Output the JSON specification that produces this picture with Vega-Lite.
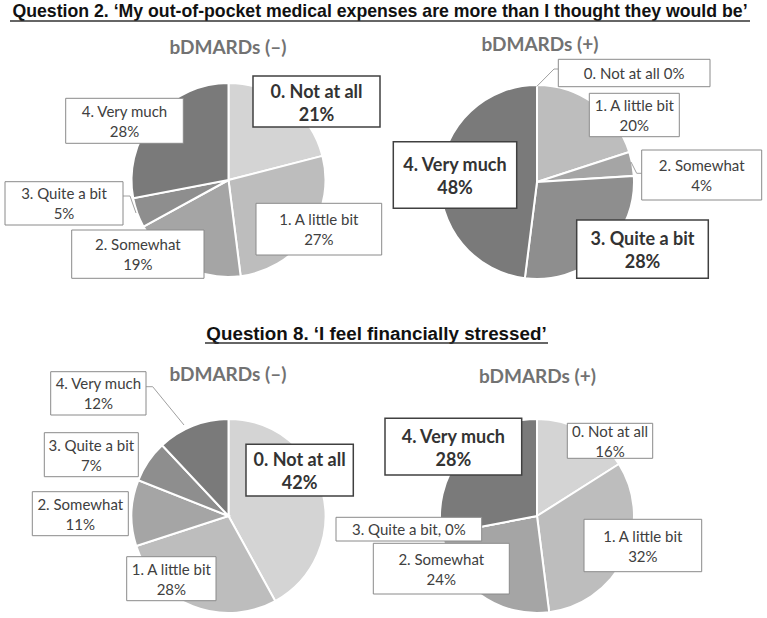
{
  "$schema": "https://vega.github.io/schema/vega-lite/v6.json",
  "width": 767,
  "height": 618,
  "autosize": {"type": "none"},
  "padding": 0,
  "background": "white",
  "config": {"view": {"stroke": null}},
  "datasets": {
    "slices": [
      {"pie": "Q2-", "cx": 228.5, "cy": 180, "order": 0, "cat": "0. Not at all", "value": 21},
      {"pie": "Q2-", "cx": 228.5, "cy": 180, "order": 1, "cat": "1. A little bit", "value": 27},
      {"pie": "Q2-", "cx": 228.5, "cy": 180, "order": 2, "cat": "2. Somewhat", "value": 19},
      {"pie": "Q2-", "cx": 228.5, "cy": 180, "order": 3, "cat": "3. Quite a bit", "value": 5},
      {"pie": "Q2-", "cx": 228.5, "cy": 180, "order": 4, "cat": "4. Very much", "value": 28},
      {"pie": "Q2+", "cx": 537, "cy": 182, "order": 0, "cat": "0. Not at all", "value": 0},
      {"pie": "Q2+", "cx": 537, "cy": 182, "order": 1, "cat": "1. A little bit", "value": 20},
      {"pie": "Q2+", "cx": 537, "cy": 182, "order": 2, "cat": "2. Somewhat", "value": 4},
      {"pie": "Q2+", "cx": 537, "cy": 182, "order": 3, "cat": "3. Quite a bit", "value": 28},
      {"pie": "Q2+", "cx": 537, "cy": 182, "order": 4, "cat": "4. Very much", "value": 48},
      {"pie": "Q8-", "cx": 228.5, "cy": 516, "order": 0, "cat": "0. Not at all", "value": 42},
      {"pie": "Q8-", "cx": 228.5, "cy": 516, "order": 1, "cat": "1. A little bit", "value": 28},
      {"pie": "Q8-", "cx": 228.5, "cy": 516, "order": 2, "cat": "2. Somewhat", "value": 11},
      {"pie": "Q8-", "cx": 228.5, "cy": 516, "order": 3, "cat": "3. Quite a bit", "value": 7},
      {"pie": "Q8-", "cx": 228.5, "cy": 516, "order": 4, "cat": "4. Very much", "value": 12},
      {"pie": "Q8+", "cx": 537, "cy": 516, "order": 0, "cat": "0. Not at all", "value": 16},
      {"pie": "Q8+", "cx": 537, "cy": 516, "order": 1, "cat": "1. A little bit", "value": 32},
      {"pie": "Q8+", "cx": 537, "cy": 516, "order": 2, "cat": "2. Somewhat", "value": 24},
      {"pie": "Q8+", "cx": 537, "cy": 516, "order": 3, "cat": "3. Quite a bit", "value": 0},
      {"pie": "Q8+", "cx": 537, "cy": 516, "order": 4, "cat": "4. Very much", "value": 28}
    ],
    "labels": [
      {"pie": "Q2-", "text": "0. Not at all\n21%", "bold": true, "x1": 253, "x2": 380, "y1": 76, "y2": 127},
      {"pie": "Q2-", "text": "1. A little bit\n27%", "bold": false, "x1": 256, "x2": 381.7, "y1": 203.3, "y2": 255},
      {"pie": "Q2-", "text": "2. Somewhat\n19%", "bold": false, "x1": 71.7, "x2": 204, "y1": 230, "y2": 278.3},
      {"pie": "Q2-", "text": "3. Quite a bit\n5%", "bold": false, "x1": 5, "x2": 123, "y1": 181.7, "y2": 225},
      {"pie": "Q2-", "text": "4. Very much\n28%", "bold": false, "x1": 65.7, "x2": 183.3, "y1": 98.3, "y2": 143.3},
      {"pie": "Q2+", "text": "0. Not at all 0%", "bold": false, "x1": 558.3, "x2": 710, "y1": 59.3, "y2": 86.7},
      {"pie": "Q2+", "text": "1. A little bit\n20%", "bold": false, "x1": 589.3, "x2": 679.3, "y1": 93.3, "y2": 136.7},
      {"pie": "Q2+", "text": "2. Somewhat\n4%", "bold": false, "x1": 641.7, "x2": 761.7, "y1": 150, "y2": 200},
      {"pie": "Q2+", "text": "3. Quite a bit\n28%", "bold": true, "x1": 576.7, "x2": 708.3, "y1": 220, "y2": 278.3},
      {"pie": "Q2+", "text": "4. Very much\n48%", "bold": true, "x1": 393.3, "x2": 516.7, "y1": 141.7, "y2": 208.3},
      {"pie": "Q8-", "text": "0. Not at all\n42%", "bold": true, "x1": 246, "x2": 353.3, "y1": 444.3, "y2": 496},
      {"pie": "Q8-", "text": "1. A little bit\n28%", "bold": false, "x1": 126.7, "x2": 216, "y1": 556.7, "y2": 600.7},
      {"pie": "Q8-", "text": "2. Somewhat\n11%", "bold": false, "x1": 32.3, "x2": 128.3, "y1": 491.7, "y2": 535.7},
      {"pie": "Q8-", "text": "3. Quite a bit\n7%", "bold": false, "x1": 44.3, "x2": 138.3, "y1": 432.7, "y2": 476.7},
      {"pie": "Q8-", "text": "4. Very much\n12%", "bold": false, "x1": 50.7, "x2": 146, "y1": 371.7, "y2": 415},
      {"pie": "Q8+", "text": "0. Not at all\n16%", "bold": false, "x1": 567.3, "x2": 652.7, "y1": 423.3, "y2": 458.3},
      {"pie": "Q8+", "text": "1. A little bit\n32%", "bold": false, "x1": 584, "x2": 701.7, "y1": 519.3, "y2": 571.7},
      {"pie": "Q8+", "text": "2. Somewhat\n24%", "bold": false, "x1": 373.3, "x2": 509.3, "y1": 543.3, "y2": 594},
      {"pie": "Q8+", "text": "3. Quite a bit, 0%", "bold": false, "x1": 336, "x2": 481.7, "y1": 517.3, "y2": 541},
      {"pie": "Q8+", "text": "4. Very much\n28%", "bold": true, "x1": 385, "x2": 521.7, "y1": 418.3, "y2": 475}
    ],
    "leaders": [
      {"id": "a", "ord": 0, "x": 123, "y": 196},
      {"id": "a", "ord": 1, "x": 130, "y": 196},
      {"id": "a", "ord": 2, "x": 136, "y": 213},
      {"id": "b", "ord": 0, "x": 558.3, "y": 69},
      {"id": "b", "ord": 1, "x": 554, "y": 69},
      {"id": "b", "ord": 2, "x": 536.7, "y": 86.5},
      {"id": "c", "ord": 0, "x": 631, "y": 162},
      {"id": "c", "ord": 1, "x": 636.7, "y": 173.3},
      {"id": "c", "ord": 2, "x": 641.7, "y": 173.3},
      {"id": "d", "ord": 0, "x": 146, "y": 386.7},
      {"id": "d", "ord": 1, "x": 152.7, "y": 386.7},
      {"id": "d", "ord": 2, "x": 184, "y": 425}
    ],
    "titles": [
      {"q": 2, "text": "Question 2. ‘My out-of-pocket medical expenses are more than I thought they would be’", "x": 380, "y": 17},
      {"q": 8, "text": "Question 8. ‘I feel financially stressed’", "x": 376.5, "y": 339.5}
    ],
    "underlines": [
      {"x1": 10, "x2": 750, "y": 21},
      {"x1": 205, "x2": 548, "y": 343}
    ],
    "subtitles": [
      {"text": "bDMARDs (–)", "x": 228, "y": 48},
      {"text": "bDMARDs (+)", "x": 540, "y": 45},
      {"text": "bDMARDs (–)", "x": 228, "y": 375},
      {"text": "bDMARDs (+)", "x": 537.5, "y": 377}
    ]
  },
  "layer": [
    {
      "data": {"name": "slices"},
      "transform": [
        {"stack": "value", "groupby": ["pie"], "sort": [{"field": "order", "order": "ascending"}], "as": ["v0", "v1"]}
      ],
      "mark": {"type": "arc", "radius": 97, "stroke": "white", "strokeWidth": 2},
      "encoding": {
        "x": {"field": "cx", "type": "quantitative", "scale": {"domain": [0, 767], "nice": false, "zero": false}, "axis": null},
        "y": {"field": "cy", "type": "quantitative", "scale": {"domain": [0, 618], "reverse": true, "nice": false, "zero": false}, "axis": null},
        "theta": {"field": "v0", "type": "quantitative", "stack": null, "scale": {"domain": [0, 100], "range": [0, 6.283185307]}},
        "theta2": {"field": "v1"},
        "color": {"field": "order", "type": "ordinal", "scale": {"domain": [0, 1, 2, 3, 4], "range": ["#d4d4d4", "#bdbdbd", "#a5a5a5", "#8e8e8e", "#7a7a7a"]}, "legend": null}
      }
    },
    {
      "data": {"name": "leaders"},
      "mark": {"type": "line", "color": "#a0a0a0", "strokeWidth": 1},
      "encoding": {
        "x": {"field": "x", "type": "quantitative", "axis": null},
        "y": {"field": "y", "type": "quantitative", "axis": null},
        "detail": {"field": "id"},
        "order": {"field": "ord", "type": "quantitative"}
      }
    },
    {
      "data": {"name": "labels"},
      "transform": [{"filter": "!datum.bold"}],
      "mark": {"type": "rect", "fill": "white", "stroke": "#8a8a8a", "strokeWidth": 1},
      "encoding": {
        "x": {"field": "x1", "type": "quantitative", "axis": null},
        "x2": {"field": "x2"},
        "y": {"field": "y1", "type": "quantitative", "axis": null},
        "y2": {"field": "y2"}
      }
    },
    {
      "data": {"name": "labels"},
      "transform": [{"filter": "datum.bold"}],
      "mark": {"type": "rect", "fill": "white", "stroke": "#404040", "strokeWidth": 1.5},
      "encoding": {
        "x": {"field": "x1", "type": "quantitative", "axis": null},
        "x2": {"field": "x2"},
        "y": {"field": "y1", "type": "quantitative", "axis": null},
        "y2": {"field": "y2"}
      }
    },
    {
      "data": {"name": "labels"},
      "transform": [
        {"filter": "!datum.bold && indexof(datum.text, '\\n') >= 0"},
        {"calculate": "(datum.x1 + datum.x2) / 2", "as": "xc"},
        {"calculate": "(datum.y1 + datum.y2) / 2", "as": "yc"}
      ],
      "mark": {"type": "text", "font": "Lato", "fontSize": 15, "lineBreak": "\n", "lineHeight": 20, "align": "center", "baseline": "middle", "dy": -9, "color": "#404040"},
      "encoding": {
        "x": {"field": "xc", "type": "quantitative", "axis": null},
        "y": {"field": "yc", "type": "quantitative", "axis": null},
        "text": {"field": "text"}
      }
    },
    {
      "data": {"name": "labels"},
      "transform": [
        {"filter": "!datum.bold && indexof(datum.text, '\\n') < 0"},
        {"calculate": "(datum.x1 + datum.x2) / 2", "as": "xc"},
        {"calculate": "(datum.y1 + datum.y2) / 2", "as": "yc"}
      ],
      "mark": {"type": "text", "font": "Lato", "fontSize": 15, "align": "center", "baseline": "middle", "dy": 1, "color": "#404040"},
      "encoding": {
        "x": {"field": "xc", "type": "quantitative", "axis": null},
        "y": {"field": "yc", "type": "quantitative", "axis": null},
        "text": {"field": "text"}
      }
    },
    {
      "data": {"name": "labels"},
      "transform": [
        {"filter": "datum.bold"},
        {"calculate": "(datum.x1 + datum.x2) / 2", "as": "xc"},
        {"calculate": "(datum.y1 + datum.y2) / 2", "as": "yc"}
      ],
      "mark": {"type": "text", "font": "Lato", "fontSize": 18, "fontWeight": "bold", "lineBreak": "\n", "lineHeight": 23, "align": "center", "baseline": "middle", "dy": -9, "color": "#333333"},
      "encoding": {
        "x": {"field": "xc", "type": "quantitative", "axis": null},
        "y": {"field": "yc", "type": "quantitative", "axis": null},
        "text": {"field": "text"}
      }
    },
    {
      "data": {"name": "subtitles"},
      "mark": {"type": "text", "font": "Lato", "fontSize": 19, "fontWeight": "bold", "align": "center", "baseline": "middle", "color": "#727272"},
      "encoding": {
        "x": {"field": "x", "type": "quantitative", "axis": null},
        "y": {"field": "y", "type": "quantitative", "axis": null},
        "text": {"field": "text"}
      }
    },
    {
      "data": {"name": "titles"},
      "transform": [{"filter": "datum.q == 2"}],
      "mark": {"type": "text", "font": "Liberation Sans", "fontSize": 17.7, "fontWeight": "bold", "align": "center", "baseline": "alphabetic", "color": "#111111"},
      "encoding": {
        "x": {"field": "x", "type": "quantitative", "axis": null},
        "y": {"field": "y", "type": "quantitative", "axis": null},
        "text": {"field": "text"}
      }
    },
    {
      "data": {"name": "titles"},
      "transform": [{"filter": "datum.q == 8"}],
      "mark": {"type": "text", "font": "Liberation Sans", "fontSize": 18.8, "fontWeight": "bold", "align": "center", "baseline": "alphabetic", "color": "#111111"},
      "encoding": {
        "x": {"field": "x", "type": "quantitative", "axis": null},
        "y": {"field": "y", "type": "quantitative", "axis": null},
        "text": {"field": "text"}
      }
    },
    {
      "data": {"name": "underlines"},
      "mark": {"type": "rule", "color": "#333333", "strokeWidth": 1.5},
      "encoding": {
        "x": {"field": "x1", "type": "quantitative", "axis": null},
        "x2": {"field": "x2"},
        "y": {"field": "y", "type": "quantitative", "axis": null}
      }
    }
  ]
}
